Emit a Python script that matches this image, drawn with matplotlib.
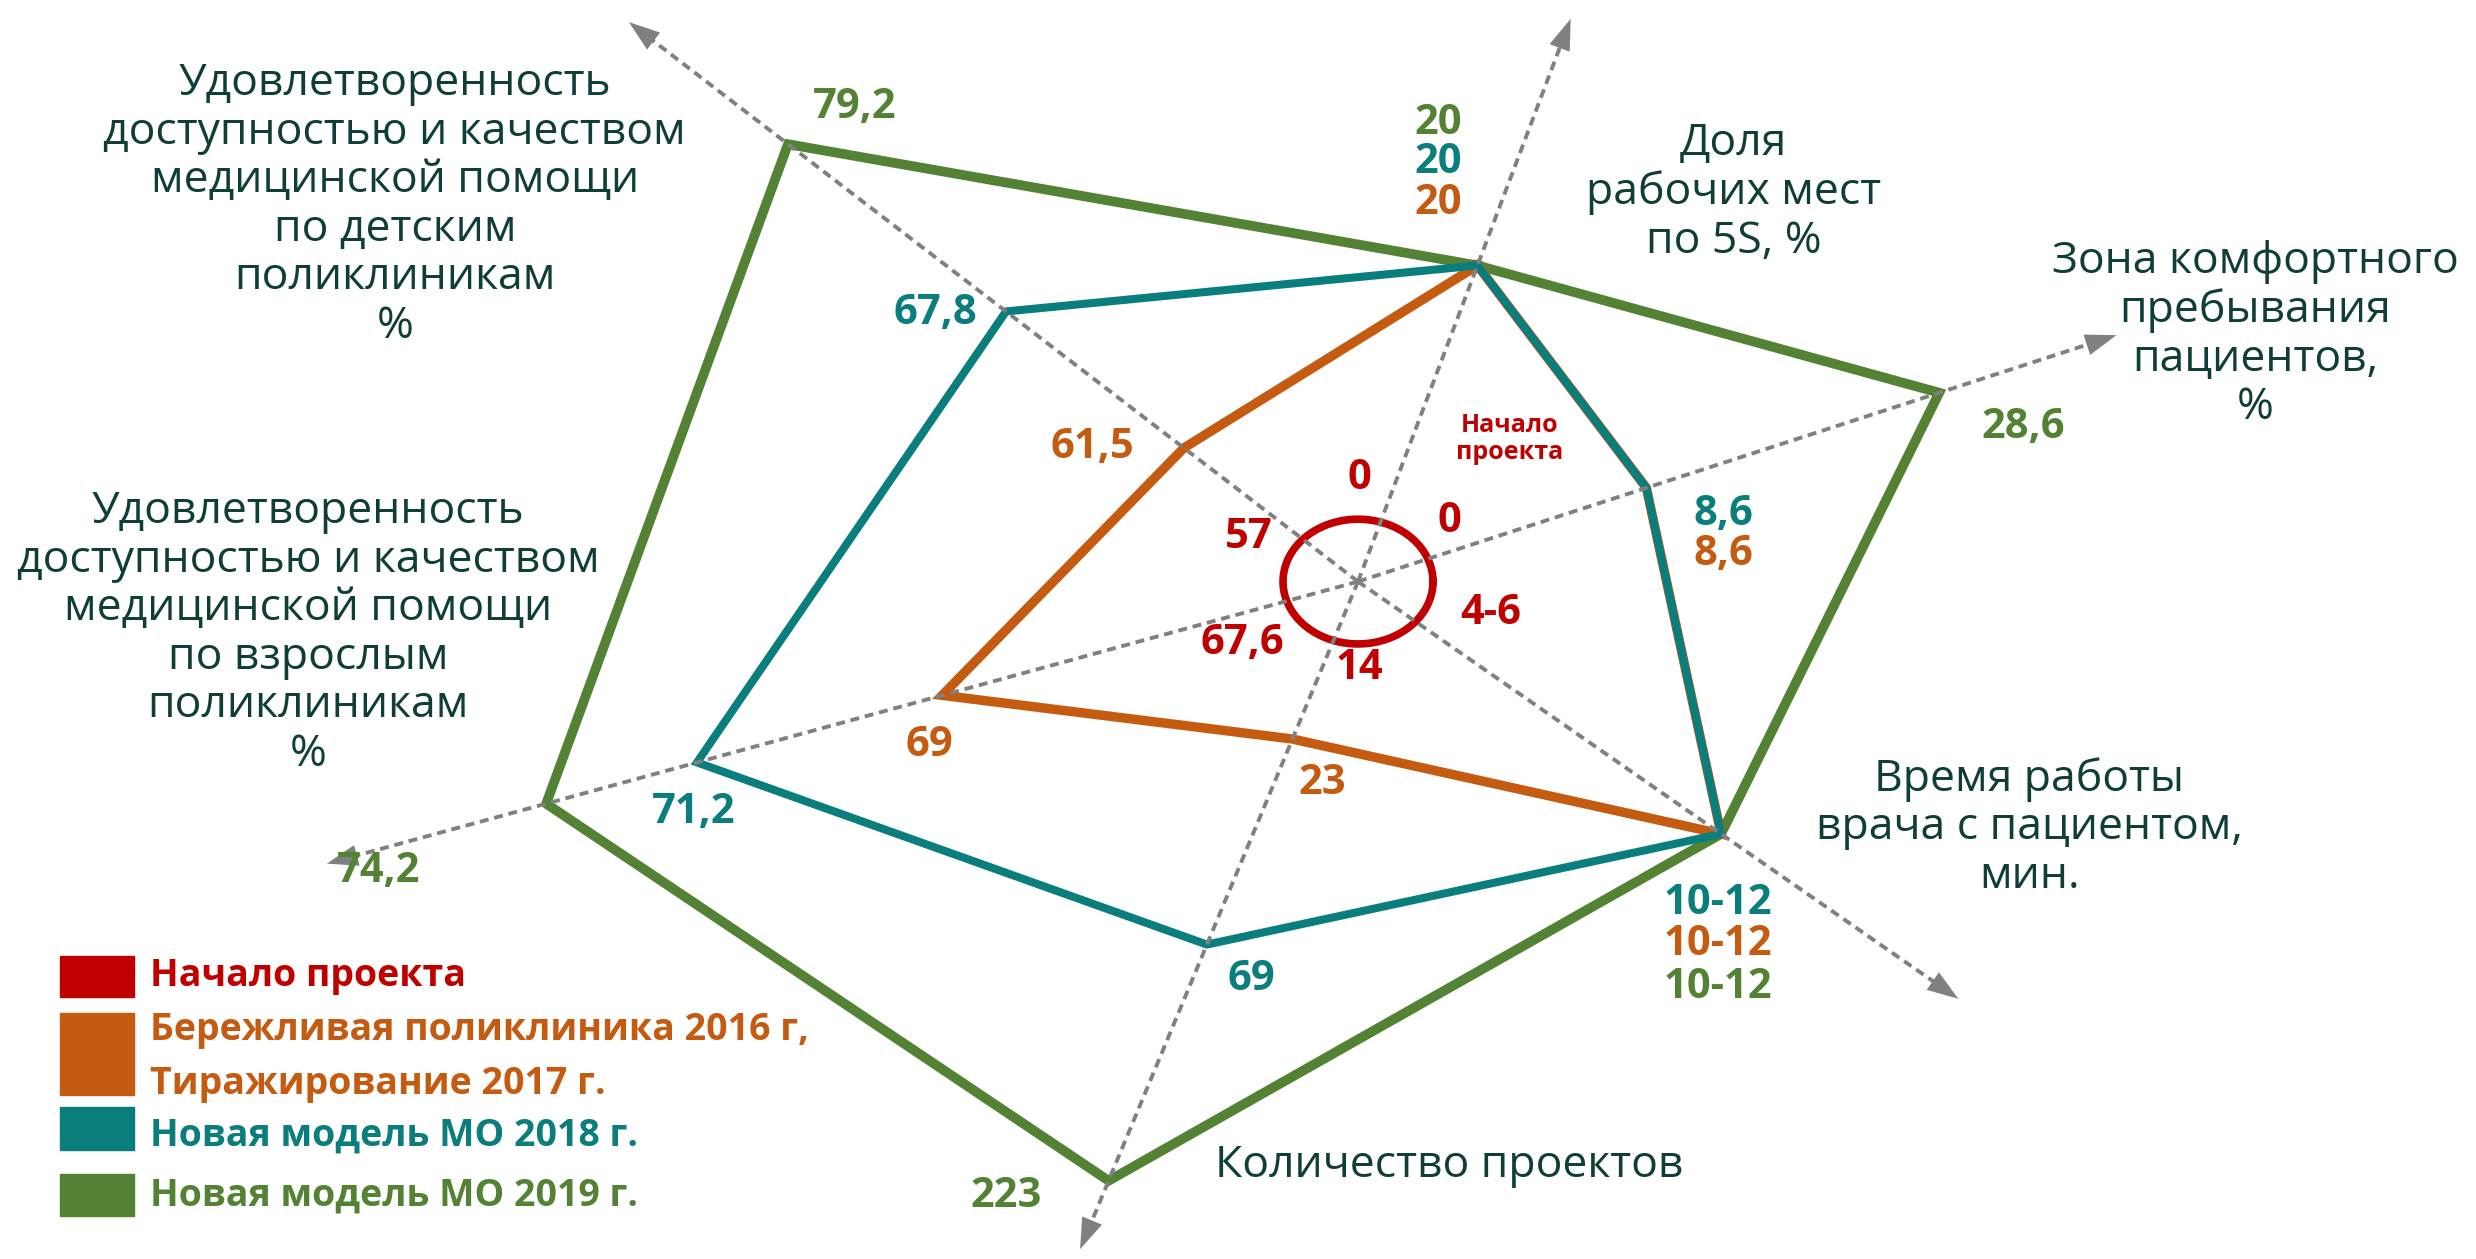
import numpy as np
import matplotlib.pyplot as plt
from matplotlib.patches import Rectangle

plt.rcParams['font.family'] = ['Open Sans', 'DejaVu Sans']

# axes of the diagram (clockwise from the top)
categories = [
    'Доля\nрабочих мест\nпо 5S, %',
    'Зона комфортного\nпребывания\nпациентов,\n%',
    'Время работы\nврача с пациентом,\nмин.',
    'Количество проектов',
    'Удовлетворенность\nдоступностью и качеством\nмедицинской помощи\nпо взрослым\nполиклиникам\n%',
    'Удовлетворенность\nдоступностью и качеством\nмедицинской помощи\nпо детским\nполиклиникам\n%',
]
axis_angle = [69.3, 18.0, -34.8, -112.6, 195.3, 142.5]   # degrees, ccw from east
axis_len = [381, 505, 463, 458, 677, 582]

series_names = ['Начало проекта',
                'Бережливая поликлиника 2016 г,\nТиражирование 2017 г.',
                'Новая модель МО 2018 г.',
                'Новая модель МО 2019 г.']

start_labels = ['0', '0', '4-6', '14', '67,6', '57']
lean_labels = ['20', '8,6', '10-12', '23', '69', '61,5']
mo2018_labels = ['20', '8,6', '10-12', '69', '71,2', '67,8']
mo2019_labels = ['20', '28,6', '10-12', '223', '74,2', '79,2']

# plotted level on each axis (schematic, axes are not to scale)
lean_level = [214, 192, 280, 108, 273, 139]
mo2018_level = [214, 192, 280, 249, 434, 281]
mo2019_level = [214, 387, 280, 411, 533, 455]

c_red, c_orange, c_teal, c_green = '#c00000', '#c55a11', '#0a7e7c', '#548235'
c_text = '#0f3d38'
c_axis = '#808080'

# label offsets from the vertex (px of a 1568 wide layout, y down)
start_off = [(1, -65), (58, -38), (84, 20), (1, 55), (-73, 39), (-69, -28)]
lean_off = [(-25, -39), (49, 42), (-2, 70), (19, 28), (-8, 32), (-58, 0)]
mo2018_off = [(-25, -65), (49, 17), (-2, 44), (28, 22), (-2, 32), (-45, 1)]
mo2019_off = [(-25, -90), (53, 22), (-2, 97), (-65, 10), (-106, 43), (42, -23)]

W, H = 2476, 1259
s = W / 1568.0
k = s * 72 / 100.0          # layout px -> points

fig = plt.figure(figsize=(W / 100, H / 100), dpi=100)

# polar axes centred on the diagram centre
cx, cy = 860 * s, (797 - 368) * s
R = 1150
ax = fig.add_axes([(cx - R) / W, (cy - R) / H, 2 * R / W, 2 * R / H], projection='polar')
ax.set_ylim(0, R / s)
ax.axis('off')

theta = np.deg2rad(axis_angle)

def closed(a):
    return np.append(a, a[0])

ax.plot(closed(theta), closed(mo2019_level), color=c_green, lw=7, zorder=2, solid_joinstyle='miter')
ax.plot(closed(theta), closed(lean_level), color=c_orange, lw=6.8, zorder=3, solid_joinstyle='miter')
ax.plot(closed(theta), closed(mo2018_level), color=c_teal, lw=5.8, zorder=4, solid_joinstyle='miter')

# "Начало проекта" drawn as a small ring at the centre
t = np.linspace(0, 2 * np.pi, 200)
a, b = 47.5, 39.5
ax.plot(t, a * b / np.sqrt((b * np.cos(t)) ** 2 + (a * np.sin(t)) ** 2), color=c_red, lw=5.5, zorder=5)

# dashed axes with arrow heads
for th, L in zip(theta, axis_len):
    ax.plot([th, th], [0, L - 14], color=c_axis, lw=2.8, ls=(0, (2.3, 1.5)), zorder=6)
    ax.annotate('', xy=(th, L), xytext=(th, L - 20),
                arrowprops=dict(arrowstyle='-|>,head_length=1.6,head_width=0.55',
                                mutation_scale=14, color=c_axis, lw=0,
                                shrinkA=0, shrinkB=0), zorder=6)

def value_labels(levels, labels, offs, color, size=30):
    for th, r, lab, (dx, dy) in zip(theta, levels, labels, offs):
        ax.annotate(lab, xy=(th, r), xytext=(dx * k, -dy * k), textcoords='offset points',
                    ha='center', va='center', color=color, fontsize=size,
                    fontweight='bold', zorder=7, annotation_clip=False)

value_labels([0] * 6, start_labels, start_off, c_red)
value_labels(lean_level, lean_labels, lean_off, c_orange)
value_labels(mo2018_level, mo2018_labels, mo2018_off, c_teal)
value_labels(mo2019_level, mo2019_labels, mo2019_off, c_green)

# overlay for texts and legend
ov = fig.add_axes([0, 0, 1, 1])
ov.set_xlim(0, 1568)
ov.set_ylim(797, 0)
ov.axis('off')

label_pos = [(1098, 122), (1428, 212), (1285, 524), (918, 738), (195, 401), (250, 130)]
for txt, (x, y) in zip(categories, label_pos):
    ov.text(x, y, txt, ha='center', va='center', multialignment='center',
            fontsize=32, color=c_text, linespacing=1.12)

ov.text(956, 278, 'Начало\nпроекта', ha='center', va='center', color=c_red,
        fontsize=18, fontweight='bold', linespacing=1.1)

legend_rows = [(605, 26, 618), (641, 52, 669), (701, 27, 719), (743, 27, 757)]
for name, col, (y0, h, ty) in zip(series_names, [c_red, c_orange, c_teal, c_green], legend_rows):
    ov.add_patch(Rectangle((38, y0), 47, h, color=col))
    ov.text(95, ty, name, ha='left', va='center', color=col, fontsize=27,
            fontweight='bold', linespacing=1.55)

fig.savefig('out.png', dpi=100)
